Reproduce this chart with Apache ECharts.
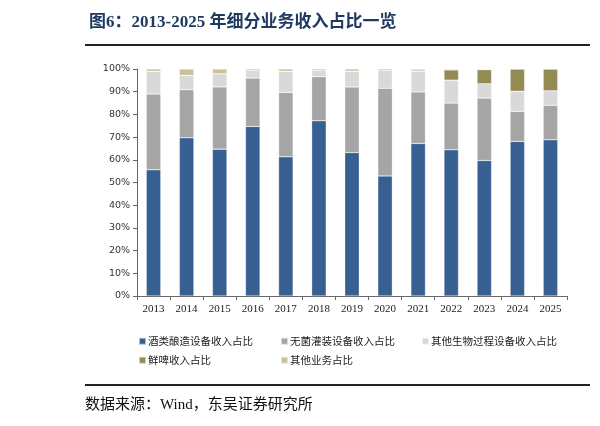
<!DOCTYPE html>
<html>
<head>
<meta charset="utf-8">
<script src="https://cdn.jsdelivr.net/npm/echarts@6/dist/echarts.min.js"></script>
</head>
<body style="margin:0;background:#fff">
<div id="chart" style="width:600px;height:426px"></div>
<script>
// 年份
var years = ['2013','2014','2015','2016','2017','2018','2019','2020','2021','2022','2023','2024','2025'];
// 各项业务占比（%）
var brewing   = [55.6, 69.7, 64.7, 74.7, 61.3, 77.2, 63.2, 52.9, 67.2, 64.4, 59.7, 68.1, 68.8];
var aseptic   = [33.4, 21.2, 27.4, 21.3, 28.4, 19.4, 28.9, 38.6, 22.7, 20.6, 27.5, 13.2, 15.2];
var bioProc   = [10.0, 6.3, 5.8, 3.3, 9.3, 2.7, 6.9, 7.8, 9.1, 10.1, 6.3, 8.9, 6.4];
var freshBeer = [0, 0, 0, 0, 0, 0, 0, 0, 0.5, 4.5, 6.2, 9.8, 9.6];
var others    = [1.0, 2.8, 2.1, 0.7, 1.0, 0.7, 1.0, 0.7, 0.5, 0.4, 0.3, 0, 0];

var names = ['酒类酿造设备收入占比', '无菌灌装设备收入占比', '其他生物过程设备收入占比', '鲜啤收入占比', '其他业务占比'];
var colors = ['#375F91', '#A5A5A5', '#D9D9D9', '#948A54', '#C9C19A'];
var values = [brewing, aseptic, bioProc, freshBeer, others];

var serif = '"Liberation Serif", "Noto Sans CJK SC", serif';
var cjk = '"Noto Sans CJK SC", "Liberation Serif", sans-serif';
var sans = '"DejaVu Sans", "Liberation Sans", sans-serif';

var legendPos = [[133, 331], [275, 331], [416, 331], [133, 350], [275, 350]];
var legends = names.map(function (n, i) {
  return {
    data: [n],
    left: legendPos[i][0],
    top: legendPos[i][1],
    itemWidth: 7,
    itemHeight: 7,
    itemGap: 2,
    icon: 'rect',
    textStyle: { fontSize: 10.5, color: '#222', fontFamily: cjk, padding: [0, 0, 0, -3] },
    selectedMode: false
  };
});

var series = names.map(function (n, i) {
  return {
    name: n,
    type: 'bar',
    stack: 'total',
    barWidth: 14.5,
    data: values[i],
    itemStyle: { color: colors[i], borderColor: 'rgba(255,255,255,0.6)', borderWidth: 0.5 },
    emphasis: { disabled: true }
  };
});

var chart = echarts.init(document.getElementById('chart'));
chart.setOption({
  animation: false,
  title: {
    text: '图6：2013-2025 年细分业务收入占比一览',
    left: 84,
    top: 9,
    textStyle: { fontSize: 17, fontWeight: 'bold', color: '#1F3A60', fontFamily: serif }
  },
  legend: legends,
  grid: { left: 137, right: 33, top: 69, bottom: 130 },
  xAxis: {
    type: 'category',
    data: years,
    axisLine: { lineStyle: { color: '#666' } },
    axisTick: { show: true, length: 4, lineStyle: { color: '#666' } },
    axisLabel: { fontSize: 11, color: '#222', fontFamily: serif, margin: 8 }
  },
  yAxis: {
    type: 'value',
    min: 0,
    max: 100,
    interval: 10,
    axisLine: { show: true, lineStyle: { color: '#666' } },
    axisTick: { show: true, length: 4, lineStyle: { color: '#666' } },
    splitLine: { show: false },
    axisLabel: { fontSize: 9.5, color: '#333', fontFamily: sans, formatter: '{value}%', margin: 7 }
  },
  series: series,
  graphic: [
    { type: 'line', shape: { x1: 85, y1: 45, x2: 590, y2: 45 }, style: { stroke: '#222', lineWidth: 2 } },
    { type: 'line', shape: { x1: 85, y1: 385, x2: 590, y2: 385 }, style: { stroke: '#222', lineWidth: 2 } },
    {
      type: 'text', left: 85, top: 398,
      style: { text: '数据来源：Wind，东吴证券研究所', fontSize: 15, fill: '#111', fontFamily: serif }
    }
  ]
});
</script>
</body>
</html>
